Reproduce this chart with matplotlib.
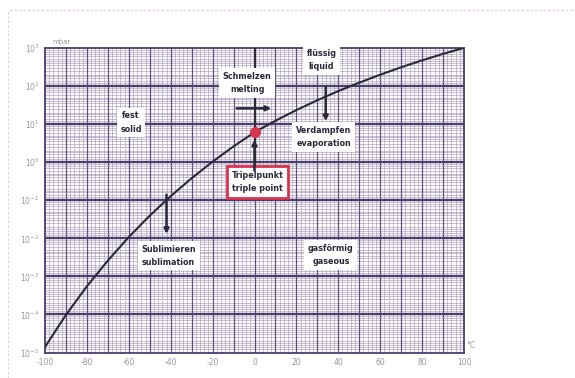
import matplotlib
matplotlib.use("Agg")
import matplotlib.pyplot as plt
from matplotlib.lines import Line2D
from matplotlib.ticker import NullLocator

# vapour pressure of water over ice / liquid, mbar
temp_c = [-100, -90, -80, -70, -60, -50, -40, -30, -20, -10, 0,
          10, 20, 30, 40, 50, 60, 70, 80, 90, 100]
p_mbar = [1.4e-5, 9.7e-5, 5.5e-4, 2.6e-3, 1.08e-2, 3.94e-2, 0.128, 0.38, 1.03, 2.6, 6.1,
          12.3, 23.4, 42.4, 73.8, 123, 199, 312, 474, 701, 1013]
triple_t, triple_p = 0.01, 6.11

x_ticks = list(range(-100, 101, 20))
x_labels = [str(t) for t in x_ticks]
y_exps = list(range(-5, 4))

GRID_DARK = "#4b3d6e"
GRID_MID = "#615380"
GRID_FINE = "#aa9bbd"
TXT = "#2b2838"
RED = "#d9344f"
TICK = "#9a96a0"

fig = plt.figure(figsize=(5.75, 3.78), dpi=100)
ax = fig.add_axes([45 / 575, 1 - 352.5 / 378, 419 / 575, 304.5 / 378])
ax.set_yscale("log")
ax.set_xlim(-100, 100)
ax.set_ylim(1e-5, 1e3)

# graph paper: fine 2 degC / log subdivisions, darker 10 degC and decade lines
for t in range(-100, 101, 2):
    if t % 10:
        ax.axvline(t, color=GRID_FINE, lw=0.45, zorder=1)
for t in range(-90, 100, 10):
    ax.axvline(t, color=GRID_MID, lw=0.9, zorder=1.2)
subs = [1.2, 1.4, 1.6, 1.8, 2, 2.5, 3, 3.5, 4, 4.5, 5, 6, 7, 8, 9]
for e in range(-5, 3):
    for m in subs:
        ax.axhline(m * 10 ** e, color=GRID_FINE, lw=0.45, zorder=1)
for e in y_exps[1:-1]:
    ax.axhline(10 ** e, color=GRID_DARK, lw=1.7, zorder=1.3)

for s in ax.spines.values():
    s.set_color(GRID_DARK)
    s.set_linewidth(1.3)

ax.set_xticks(x_ticks)
ax.set_xticklabels(x_labels)
ax.set_yticks([10.0 ** e for e in y_exps])
ax.set_yticklabels([f"$10^{{{e}}}$" for e in y_exps])
ax.yaxis.set_minor_locator(NullLocator())
ax.tick_params(length=0, labelsize=5.5, colors=TICK, pad=4)

# 0 degC melting line
ax.plot([0, 0], [1e3, 0.55], color=TXT, lw=1.6, zorder=3)

# phase boundary
ax.plot(temp_c, p_mbar, color=TXT, lw=1.5, zorder=4)
ax.plot([triple_t], [triple_p], "o", color=RED, ms=7, zorder=6)

box = dict(boxstyle="square,pad=0.45", fc="white", ec="none")
lab = dict(ha="center", va="center", fontsize=5.8, fontweight="bold", color=TXT,
           linespacing=1.6, zorder=5)
ax.text(-59, 11, "fest\nsolid", bbox=box, **lab)
ax.text(-3.5, 120, "Schmelzen\nmelting", bbox=box, **lab)
ax.text(32, 480, "flüssig\nliquid", bbox=box, **lab)
ax.text(33, 4.6, "Verdampfen\nevaporation", bbox=box, **lab)
ax.text(-41, 3.5e-3, "Sublimieren\nsublimation", bbox=box, **lab)
ax.text(36.5, 3.6e-3, "gasförmig\ngaseous", bbox=box, **lab)
ax.text(1.5, 0.30, "Tripelpunkt\ntriple point",
        bbox=dict(boxstyle="square,pad=0.6", fc="white", ec=RED, lw=2), **lab)

arr = dict(arrowstyle="-|>", color=TXT, lw=1.8, mutation_scale=7, shrinkA=0, shrinkB=0)
ax.annotate("", xy=(8, 26), xytext=(-8.5, 26), arrowprops=arr, zorder=5)
ax.annotate("", xy=(34, 12), xytext=(34, 95), arrowprops=arr, zorder=5)
ax.annotate("", xy=(0, 3.9), xytext=(0, 0.6), arrowprops=arr, zorder=5)
ax.annotate("", xy=(-42, 1.3e-2), xytext=(-42, 0.14), arrowprops=arr, zorder=5)

fig.text(52 / 575, 1 - 42 / 378, "mbar", fontsize=5, color=TICK, va="center")
fig.text(466 / 575, 1 - 346 / 378, "°C", fontsize=5.5, color=TICK, va="center")

# dotted page border
fig.add_artist(Line2D([10 / 575, 1], [1 - 10 / 378] * 2, transform=fig.transFigure,
                      color="#f2c3b4", lw=0.8, ls=(0, (2, 2))))
fig.add_artist(Line2D([8 / 575] * 2, [0, 1 - 10 / 378], transform=fig.transFigure,
                      color="#f2c8cc", lw=0.8, ls=(0, (2, 2))))

fig.savefig("out.png", dpi=100)
